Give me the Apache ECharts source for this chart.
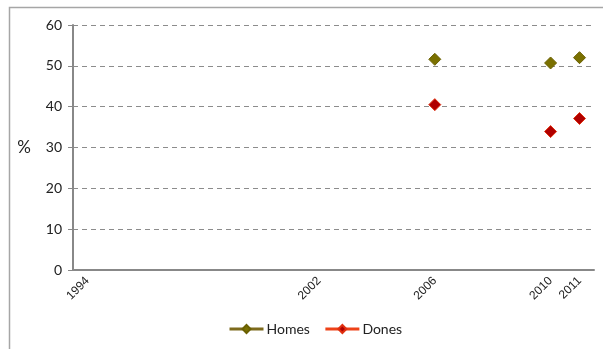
<!DOCTYPE html>
<html>
<head>
<meta charset="utf-8">
<script src="https://cdn.jsdelivr.net/npm/echarts@6/dist/echarts.min.js"></script>
<style>html,body{margin:0;padding:0;background:#fff}#c{width:603px;height:349px}</style>
</head>
<body>
<div id="c"></div>
<script>
var years = [1994,1995,1996,1997,1998,1999,2000,2001,2002,2003,2004,2005,2006,2007,2008,2009,2010,2011];
var labelYears = [1994,2002,2006,2010,2011];
var homes = [null,null,null,null,null,null,null,null,null,null,null,null,51.6,null,null,null,50.7,52.0];
var dones = [null,null,null,null,null,null,null,null,null,null,null,null,40.5,null,null,null,33.9,37.1];
var yTicks = [0,10,20,30,40,50,60];

var chart = echarts.init(document.getElementById('c'), null, {renderer:'canvas'});
chart.setOption({
  animation:false,
  graphic:[{type:'rect',shape:{x:9.5,y:7.5,width:620,height:360},style:{fill:'none',stroke:'#a6a6a6',lineWidth:1.5}}],
  grid:{left:73,right:9,top:25,bottom:79},
  legend:{
    bottom:8,left:223,itemWidth:34,itemHeight:10,itemGap:14,
    textStyle:{fontFamily:'Lato',fontSize:14,color:'#222',padding:[0,0,0,-2]},
    data:[
      {name:'Homes',lineStyle:{opacity:1,width:3,color:'#7d6a1c'},itemStyle:{color:'#7a7000',borderColor:'#6a6000'}},
      {name:'Dones',lineStyle:{opacity:1,width:3,color:'#ee4218'},itemStyle:{color:'#b00000',borderColor:'#e03010'}}
    ]
  },
  xAxis:{
    type:'category',data:years.map(String),boundaryGap:true,
    axisLine:{lineStyle:{color:'#888',width:2}},
    axisTick:{interval:0,length:4,lineStyle:{color:'#888'}},
    axisLabel:{interval:0,rotate:45,fontFamily:'Liberation Sans',fontSize:12,color:'#222',margin:9,
      formatter:function(v){return labelYears.indexOf(+v)>=0?v:'';}},
    splitLine:{show:false}
  },
  yAxis:{
    type:'value',min:yTicks[0],max:yTicks[yTicks.length-1],interval:10,
    name:'%',nameLocation:'middle',nameRotate:0,nameGap:42,
    nameTextStyle:{fontFamily:'Lato',fontSize:17,color:'#222'},
    axisLine:{show:true,lineStyle:{color:'#888',width:2}},
    axisTick:{show:true,length:5,lineStyle:{color:'#888'}},
    axisLabel:{fontFamily:'Lato',fontSize:14,color:'#222',margin:11},
    splitLine:{lineStyle:{color:'#8c8c8c',type:[5,4],width:1}}
  },
  series:[
    {name:'Homes',type:'line',data:homes,symbol:'diamond',symbolSize:12,showSymbol:true,
      lineStyle:{opacity:0,width:0,color:'#7d6a1c'},itemStyle:{color:'#7a7000',borderColor:'#6a6000',borderWidth:1}},
    {name:'Dones',type:'line',data:dones,symbol:'diamond',symbolSize:12,showSymbol:true,
      lineStyle:{opacity:0,width:0,color:'#ee4218'},itemStyle:{color:'#b00000',borderColor:'#e03010',borderWidth:1}}
  ]
});
</script>
</body>
</html>
